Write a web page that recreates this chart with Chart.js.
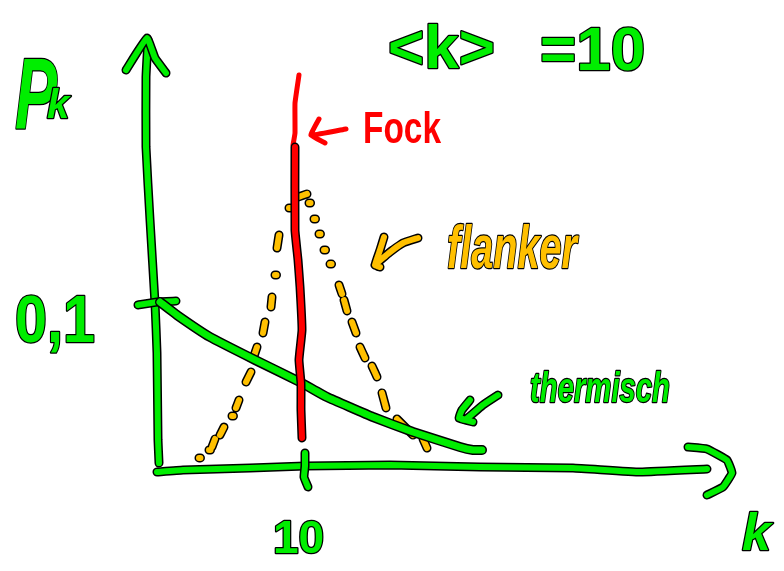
<!DOCTYPE html>
<html>
<head>
<meta charset="utf-8">
<title>Pk sketch</title>
<script src="https://cdn.jsdelivr.net/npm/chart.js@4"></script>
<style>
    html, body { margin: 0; padding: 0; background: #fff; }
    canvas { display: block; }
</style>
</head>
<body>
<canvas id="sketch" width="784" height="571"></canvas>
<script>
// Photon number distributions at <k> = 10

// axes
const yAxisK = [0.267, 0.2, 0.133, 0, -0.333, -0.6, -0.6, -0.467];
const yAxisP = [0.003, 0.017, 0.0697, 0.1, 0.1503, 0.1945, 0.237, 0.2594];
const yHeadK = [-1.933, -0.533, 0, 0.733];
const yHeadP = [0.2412, 0.2606, 0.2485, 0.2394];
const xAxisK = [0.133, 1.867, 6.333, 10, 15.667, 21.667, 27.867, 32.333, 36.8];
const xAxisP = [-0.0024, -0.0012, 0, 0.0012, 0.0018, 0.0006, 0, -0.0024, -0.0006];
const xHeadK = [35.533, 36.8, 38.133, 38.467, 37.867, 36.8];
const xHeadP = [0.0127, 0.0115, 0.0048, -0.003, -0.0115, -0.0164];
const xTickK = [10, 10, 9.933, 10.2];
const xTickP = [0.0091, 0.0012, -0.0055, -0.0115];
const yTickK = [-1.133, 0.133, 1.4];
const yTickP = [0.0988, 0.1006, 0.1012];

// thermal distribution
const thermalK = [0.333, 1.467, 3.667, 6.667, 9.667, 11.467, 14.533, 17.2, 20.333, 21.2, 21.8];
const thermalP = [0.1006, 0.0927, 0.0794, 0.0655, 0.0521, 0.043, 0.0309, 0.0218, 0.0127, 0.0109, 0.0109];

// Fock state, the top part runs off without the outline
const fockTopK = [9.6, 9.333, 9.333, 9.2];
const fockTopP = [0.2382, 0.2212, 0.203, 0.1958];
const fockK = [9.333, 9.333, 9.533, 9.667, 9.8, 9.6, 9.733, 9.733, 9.8];
const fockP = [0.1945, 0.1442, 0.1261, 0.1097, 0.0836, 0.0655, 0.0515, 0.0352, 0.0182];

// dotted/dashed curve, null breaks the pen
const dashedK = [
    2.933, 3.03, null, 3.6, 3.7, null, 3.8, 4, null, 4.333, 4.6, null, 5.133, 5.23, null,
    5.4, 5.6, null, 6.067, 6.4, null, 6.6, 6.8, null, 7.2, 7.333, null, 7.733, 7.8, null,
    8, 8.1, null, 8.133, 8.267, null, 8.933, 9.03, null, 9.533, 10.133, null,
    10.267, 10.37, null, 10.6, 10.7, null, 10.933, 11.03, null, 11.267, 11.37, null, 11.667, 11.77, null,
    12.267, 12.467, null, 12.6, 12.8, null, 13.133, 13.4, null, 13.667, 14, null,
    14.467, 14.8, null, 15.133, 15.4, null, 16.133, 17.2, null, 17.867, 18.133
];
const dashedP = [
    0.0061, 0.0061, null, 0.0109, 0.0109, null, 0.0127, 0.0176, null, 0.02, 0.0248, null, 0.0315, 0.0315, null,
    0.0364, 0.0412, null, 0.0521, 0.0582, null, 0.0679, 0.0733, null, 0.0818, 0.0885, null, 0.0976, 0.1036, null,
    0.117, 0.117, null, 0.1333, 0.1412, null, 0.1576, 0.1576, null, 0.1642, 0.1661, null,
    0.1606, 0.1606, null, 0.1509, 0.1509, null, 0.1418, 0.1418, null, 0.1321, 0.1321, null, 0.1236, 0.1236, null,
    0.1109, 0.1055, null, 0.1018, 0.0952, null, 0.0885, 0.0818, null, 0.0733, 0.0667, null,
    0.0618, 0.0552, null, 0.0455, 0.0364, null, 0.0297, 0.02, null, 0.0176, 0.0121
];

// pointer arrows next to the labels
const fockArrowK = [12.733, 10.4, 10.933, 10.4, 11.333];
const fockArrowP = [0.2055, 0.2018, 0.2115, 0.2018, 0.197];
const dashArrowK = [17.533, 16.533, 15.667, 14.667, 15, 14.667, 15, 15.267];
const dashArrowP = [0.1394, 0.1364, 0.1309, 0.123, 0.1218, 0.123, 0.1321, 0.14];
const thermArrowK = [22.867, 21.867, 20.667, 20.267, 21.2, 20.267, 20.467, 21];
const thermArrowP = [0.0442, 0.0382, 0.0291, 0.0303, 0.0279, 0.0303, 0.0352, 0.0412];

// labels, anchored in data units
const labelTexts = ['P', 'k', '<k>', '=10', 'Fock', 'flanker', 'thermisch', '0,1', '10', 'k'];
const labelK = [-9.333, -7.2, 15.533, 25.667, 13.867, 19.467, 25, -9.333, 7.867, 39.133];
const labelP = [0.2061, 0.2121, 0.2424, 0.2412, 0.197, 0.1212, 0.04, 0.0764, -0.0515, -0.0497];

const GREEN = '#00ee00';
const RED = '#ff0000';
const ORANGE = '#ffc000';

const labelStyles = [
    { font: 'italic bold 100px "Liberation Sans"', color: GREEN, fit: 42 },
    { font: 'italic bold 40px "Liberation Sans"', color: GREEN, fit: 24 },
    { font: 'bold 62px "Liberation Sans"', color: GREEN, fit: 108 },
    { font: 'bold 62px "Liberation Sans"', color: GREEN, fit: 106 },
    { font: 'bold 44px "Liberation Sans"', color: RED, fit: 78, plain: true },
    { font: 'italic bold 62px "Liberation Sans"', color: ORANGE, fit: 130 },
    { font: 'italic bold 42px "Liberation Sans"', color: GREEN, fit: 140 },
    { font: 'bold 66px "Liberation Sans"', color: GREEN, fit: 80 },
    { font: 'bold 46px "Liberation Sans"', color: GREEN, fit: 54 },
    { font: 'italic bold 52px "Liberation Sans"', color: GREEN, fit: 30 }
];

function pts(xs, ys) {
    return xs.map((x, i) => ({ x: x, y: ys[i] }));
}

const datasets = [];
let layer = 100;

// one pen stroke: black rim first, colour on top
function stroke(xs, ys, color, width, rim) {
    if (rim) {
        datasets.push({
            data: pts(xs, ys), borderColor: '#000', borderWidth: width + 3,
            order: layer--, borderCapStyle: 'round', borderJoinStyle: 'round',
            pointRadius: 0, showLine: true, spanGaps: false, tension: 0.1
        });
    }
    datasets.push({
        data: pts(xs, ys), borderColor: color, borderWidth: width,
        order: layer--, borderCapStyle: 'round', borderJoinStyle: 'round',
        pointRadius: 0, showLine: true, spanGaps: false, tension: 0.1
    });
}

stroke(dashedK, dashedP, ORANGE, 6, true);
stroke(yAxisK, yAxisP, GREEN, 6, true);
stroke(yHeadK, yHeadP, GREEN, 6, true);
stroke(xAxisK, xAxisP, GREEN, 6, true);
stroke(xHeadK, xHeadP, GREEN, 6, true);
stroke(xTickK, xTickP, GREEN, 6, true);
stroke(yTickK, yTickP, GREEN, 6, true);
stroke(thermalK, thermalP, GREEN, 7, true);
stroke(fockTopK, fockTopP, RED, 5, false);
stroke(fockK, fockP, RED, 6, true);
stroke(fockArrowK, fockArrowP, RED, 5, false);
stroke(dashArrowK, dashArrowP, ORANGE, 6, true);
stroke(thermArrowK, thermArrowP, GREEN, 6, true);

const handLabels = {
    id: 'handLabels',
    afterDatasetsDraw(chart) {
        const ctx = chart.ctx;
        const sx = chart.scales.x;
        const sy = chart.scales.y;
        ctx.save();
        ctx.textAlign = 'left';
        ctx.textBaseline = 'alphabetic';
        ctx.lineJoin = 'round';
        labelTexts.forEach((text, i) => {
            const st = labelStyles[i];
            const px = sx.getPixelForValue(labelK[i]);
            const py = sy.getPixelForValue(labelP[i]);
            ctx.font = st.font;
            if (!st.plain) {
                ctx.strokeStyle = '#000';
                ctx.lineWidth = 2.5;
                ctx.strokeText(text, px, py, st.fit);
            }
            ctx.fillStyle = st.color;
            ctx.fillText(text, px, py, st.fit);
        });
        ctx.restore();
    }
};

new Chart(document.getElementById('sketch'), {
    type: 'scatter',
    data: { datasets: datasets },
    options: {
        responsive: false,
        animation: false,
        layout: { padding: 0 },
        plugins: { legend: { display: false }, tooltip: { enabled: false } },
        scales: {
            x: { type: 'linear', display: false, min: -10.3333, max: 41.9333 },
            y: { type: 'linear', display: false, min: -0.06242, max: 0.28364 }
        }
    },
    plugins: [handLabels]
});
</script>
</body>
</html>
